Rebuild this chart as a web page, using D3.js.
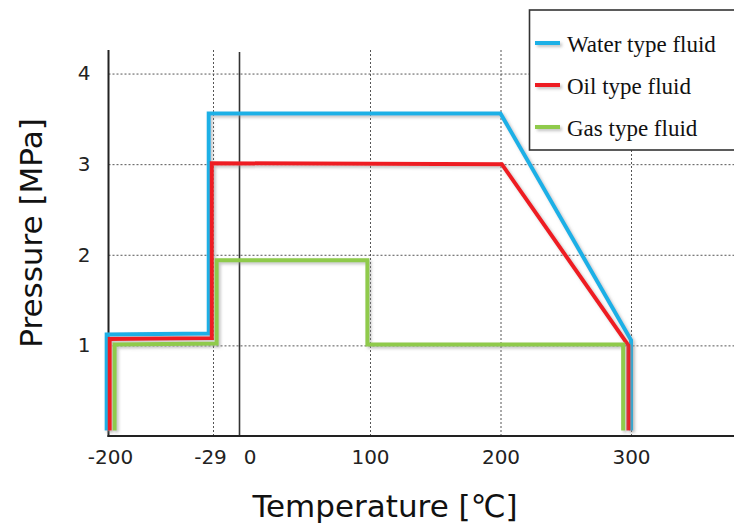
<!DOCTYPE html>
<html><head><meta charset="utf-8">
<script src="https://cdn.jsdelivr.net/npm/d3@7"></script>
<style>body{margin:0;background:#fff}svg{display:block}</style>
</head><body><svg id="c" width="734" height="525"></svg>
<script>
// ---- data ----
const xTicks = [-200, -29, 0, 100, 200, 300];
const yTicks = [1, 2, 3, 4];
const seriesNames = ["Water type fluid", "Oil type fluid", "Gas type fluid"];
const seriesColors = ["#1fb0e6", "#ee1d23", "#8fca4b"];
const waterTemp = [-203, -203, -36, -36, 200, 300, 300];
const waterPres = [0.06, 1.12, 1.13, 3.56, 3.56, 1.06, 0.06];
const oilTemp = [-198, -198, -31, -31, 201, 298, 298];
const oilPres = [0.06, 1.07, 1.08, 3.01, 3.0, 1.0, 0.06];
const gasTemp = [-190, -190, -25, -25, 98, 98, 294, 294];
const gasPres = [0.06, 1.01, 1.02, 1.94, 1.94, 1.01, 1.01, 0.06];

(function () {
const svg = d3.select("#c");
const mL = 108.5, mB = 436, mT = 50, mR = 734;
// temperature axis is drawn piecewise (non-uniform in the original)
const x = d3.scaleLinear().domain([-200, -29, 0, 300, 380]).range([mL, 213, 239.5, 631, 735]);
const y = d3.scaleLinear().domain([0, 4.26]).range([mB, mT]);

const defs = svg.append("defs");
const f = defs.append("filter").attr("id", "sh").attr("filterUnits", "userSpaceOnUse")
  .attr("x", 0).attr("y", 0).attr("width", 734).attr("height", 525);
f.append("feDropShadow").attr("dx", 2).attr("dy", 2).attr("stdDeviation", 1.5).attr("flood-color", "#888").attr("flood-opacity", 0.5);

// gridlines
const gx = svg.append("g").attr("transform", `translate(0,${mB})`)
  .call(d3.axisBottom(x).tickValues([-29, 100, 200, 300]).tickSize(-(mB - mT)).tickFormat(""));
gx.select(".domain").remove();
gx.selectAll("line").attr("stroke", "#555").attr("stroke-width", 1).attr("stroke-dasharray", "2,2");
const gy = svg.append("g").attr("transform", `translate(${mL},0)`)
  .call(d3.axisLeft(y).tickValues(yTicks).tickSize(-(mR - mL)).tickFormat(""));
gy.select(".domain").remove();
gy.selectAll("line").attr("stroke", "#555").attr("stroke-width", 1).attr("stroke-dasharray", "2,2");

// zero line
svg.append("line").attr("x1", x(0)).attr("x2", x(0)).attr("y1", mT + 2).attr("y2", mB)
  .attr("stroke", "#333").attr("stroke-width", 1.6);
// axes lines
svg.append("line").attr("x1", mL).attr("x2", mL).attr("y1", mT).attr("y2", mB + 1)
  .attr("stroke", "#222").attr("stroke-width", 2);
svg.append("line").attr("x1", mL - 1).attr("x2", mR).attr("y1", mB).attr("y2", mB)
  .attr("stroke", "#222").attr("stroke-width", 2.2);

// tick labels
const ax = svg.append("g").attr("transform", `translate(0,${mB})`)
  .call(d3.axisBottom(x).tickValues(xTicks).tickSize(0).tickPadding(14).tickFormat(d => String(d)));
ax.select(".domain").remove();
ax.selectAll("text").attr("font-family", "DejaVu Sans").attr("font-size", 20).attr("fill", "#222")
  .attr("dx", d => d === -200 ? 1.5 : d === -29 ? -3 : d === 0 ? 10 : 0);
const ay = svg.append("g").attr("transform", `translate(${mL},0)`)
  .call(d3.axisLeft(y).tickValues(yTicks).tickSize(0).tickPadding(18).tickFormat(d3.format("d")));
ay.select(".domain").remove();
ay.selectAll("text").attr("font-family", "DejaVu Sans").attr("font-size", 20).attr("fill", "#222");

// axis titles
svg.append("text").attr("x", 385).attr("y", 517).attr("text-anchor", "middle")
  .attr("font-family", "DejaVu Sans").attr("font-size", 31).attr("fill", "#111").text("Temperature [℃]");
svg.append("text").attr("transform", "translate(42,233) rotate(-90)").attr("text-anchor", "middle")
  .attr("font-family", "DejaVu Sans").attr("font-size", 31).attr("fill", "#111").text("Pressure [MPa]");

// series
const series = [
  {t: waterTemp, p: waterPres},
  {t: oilTemp, p: oilPres},
  {t: gasTemp, p: gasPres}
];
const line = d3.line().x(d => x(d[0])).y(d => y(d[1]));
series.forEach((s, i) => {
  const pts = s.t.map((t, k) => [t, s.p[k]]);
  svg.append("path").attr("d", line(pts)).attr("fill", "none")
    .attr("stroke", seriesColors[i]).attr("stroke-width", 4).attr("stroke-linejoin", "miter")
    .attr("filter", "url(#sh)");
});

// legend
const lg = svg.append("g");
lg.append("rect").attr("x", 529.5).attr("y", 10).attr("width", 210).attr("height", 140)
  .attr("fill", "#fff").attr("stroke", "#333").attr("stroke-width", 1.6);
seriesNames.forEach((n, i) => {
  const yy = 43 + i * 42;
  lg.append("line").attr("x1", 535).attr("x2", 560).attr("y1", yy).attr("y2", yy)
    .attr("stroke", seriesColors[i]).attr("stroke-width", 4).attr("filter", "url(#sh)");
  lg.append("text").attr("x", 567).attr("y", yy + 9).attr("font-family", "Liberation Serif")
    .attr("font-size", 23).attr("fill", "#111").text(n);
});
})();
</script></body></html>
